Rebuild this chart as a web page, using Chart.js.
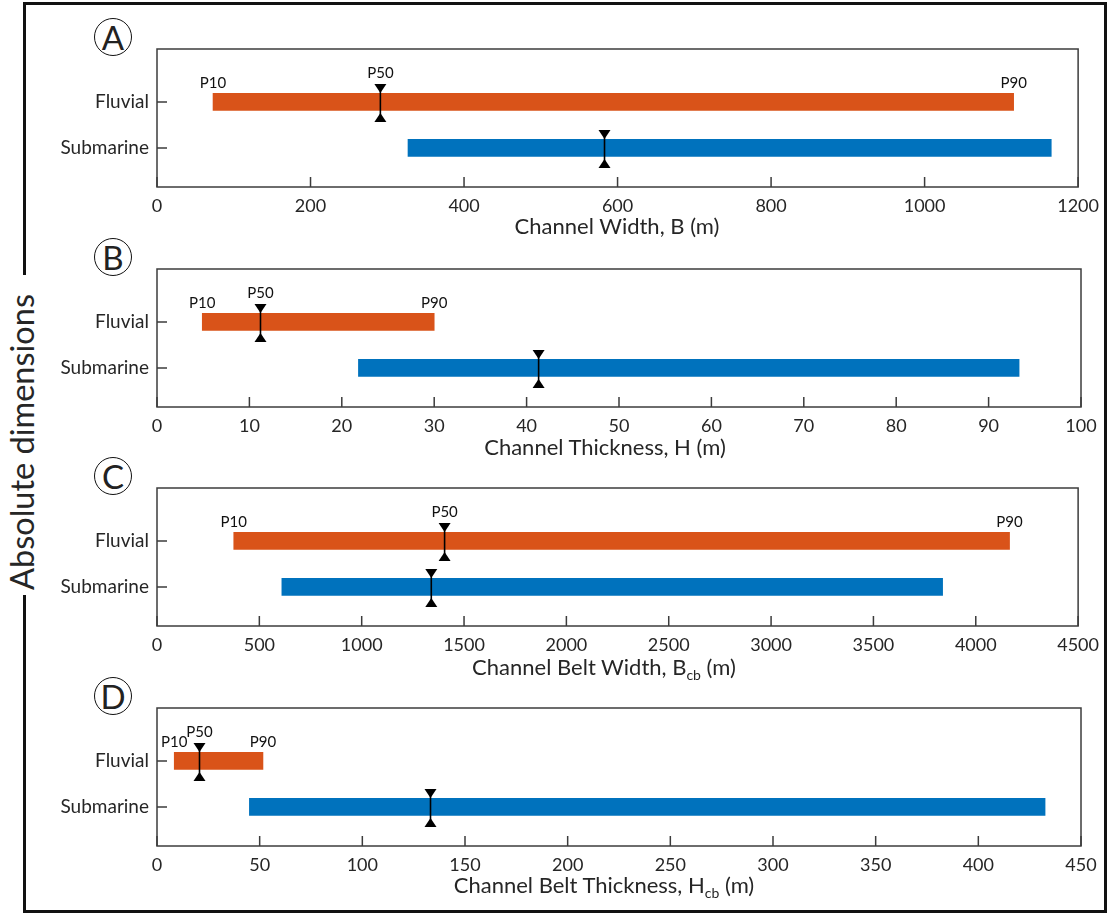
<!DOCTYPE html>
<html>
<head>
<meta charset="utf-8">
<script src="https://cdn.jsdelivr.net/npm/chart.js@4"></script>
<style>
  body { margin: 0; background: #fff; font-family: Lato, "Open Sans", sans-serif; color: #262626; }
  #wrap { position: relative; width: 1107px; height: 913px; overflow: hidden; }
  #frame { position: absolute; left: 23px; top: 2px; width: 1084px; height: 911px; border: 3px solid #111; box-sizing: border-box; }
  #vlab { position: absolute; left: 5px; top: 275px; width: 34px; height: 320px; background: #fff;
          writing-mode: vertical-rl; transform: rotate(180deg); font-size: 32.5px; line-height: 34px;
          padding-top: 5px; box-sizing: border-box; white-space: nowrap; color: #262626; }
  .letter { position: absolute; width: 38px; height: 38px; border: 1.6px solid #111; border-radius: 50%;
            box-sizing: border-box; display: flex; align-items: center; justify-content: center;
            font-size: 33px; font-weight: 400; line-height: 1; color: #222; background: #fff; padding-top: 1px; }
  .panel { position: absolute; left: 0; }
  .xt { position: absolute; transform: translateX(-50%); white-space: nowrap; font-size: 22px; line-height: 22px; color: #262626; }
  .xt sub { font-size: 14px; vertical-align: -5px; line-height: 0; }
</style>
</head>
<body>
<div id="wrap">
  <div id="frame"></div>
  <div id="vlab">Absolute dimensions</div>

  <div class="letter" style="left:94px;top:18px">A</div>
  <div class="letter" style="left:94px;top:238px">B</div>
  <div class="letter" style="left:94px;top:457px">C</div>
  <div class="letter" style="left:94px;top:677px">D</div>

  <canvas class="panel" id="chartA" width="1107" height="200" style="top:29px"></canvas>
  <canvas class="panel" id="chartB" width="1107" height="200" style="top:249px"></canvas>
  <canvas class="panel" id="chartC" width="1107" height="200" style="top:468px"></canvas>
  <canvas class="panel" id="chartD" width="1107" height="200" style="top:688px"></canvas>

  <div class="xt" style="left:617px;top:215px">Channel Width, B (m)</div>
  <div class="xt" style="left:605px;top:436px">Channel Thickness, H (m)</div>
  <div class="xt" style="left:604px;top:656px">Channel Belt Width, B<sub>cb</sub> (m)</div>
  <div class="xt" style="left:604px;top:874px">Channel Belt Thickness, H<sub>cb</sub> (m)</div>
</div>

<script>
const categories = ["Fluvial", "Submarine"];

// A: channel width (m)
const widthP10 = [73, 327];
const widthP50 = [291, 583];
const widthP90 = [1116, 1165];
const widthTicks = [0, 200, 400, 600, 800, 1000, 1200];

// B: channel thickness (m)
const thickP10 = [4.9, 21.8];
const thickP50 = [11.2, 41.3];
const thickP90 = [30, 93.3];
const thickTicks = [0, 10, 20, 30, 40, 50, 60, 70, 80, 90, 100];

// C: channel belt width (m)
const beltWidthP10 = [375, 610];
const beltWidthP50 = [1405, 1340];
const beltWidthP90 = [4165, 3838];
const beltWidthTicks = [0, 500, 1000, 1500, 2000, 2500, 3000, 3500, 4000, 4500];

// D: channel belt thickness (m)
const beltThickP10 = [8.4, 45];
const beltThickP50 = [20.7, 133.2];
const beltThickP90 = [51.6, 432.5];
const beltThickTicks = [0, 50, 100, 150, 200, 250, 300, 350, 400, 450];

const barColors = ["#D95319", "#0072BD"];
const axisColor = "#3c3c3c";
const fontFamily = "Lato, 'Open Sans', sans-serif";

// box, inward ticks, P50 markers and P10/P50/P90 labels
const panelDecor = {
  id: "panelDecor",
  afterDatasetsDraw(chart, args, opts) {
    const { ctx, chartArea: a, scales: { x, y } } = chart;
    ctx.save();
    ctx.strokeStyle = axisColor;
    ctx.lineWidth = 1.5;
    ctx.strokeRect(a.left, a.top, a.width, a.height);

    ctx.beginPath();
    x.ticks.forEach(t => {
      const px = x.getPixelForValue(t.value);
      ctx.moveTo(px, a.bottom);
      ctx.lineTo(px, a.bottom - 10);
    });
    y.ticks.forEach(t => {
      const py = y.getPixelForValue(t.value);
      ctx.moveTo(a.left, py);
      ctx.lineTo(a.left + 10, py);
    });
    ctx.stroke();

    // P50 marker: line with two triangles pointing at the bar
    ctx.fillStyle = "#000";
    ctx.strokeStyle = "#000";
    opts.p50.forEach((v, i) => {
      const px = x.getPixelForValue(v);
      const py = y.getPixelForValue(i + 1) + 1;
      ctx.lineWidth = 1.6;
      ctx.beginPath();
      ctx.moveTo(px, py - 18);
      ctx.lineTo(px, py + 18);
      ctx.stroke();
      ctx.beginPath();
      ctx.moveTo(px - 6, py - 19);
      ctx.lineTo(px + 6, py - 19);
      ctx.lineTo(px, py - 10);
      ctx.closePath();
      ctx.fill();
      ctx.beginPath();
      ctx.moveTo(px - 6, py + 19);
      ctx.lineTo(px + 6, py + 19);
      ctx.lineTo(px, py + 10);
      ctx.closePath();
      ctx.fill();
    });

    // percentile labels on the fluvial bar only
    ctx.fillStyle = "#111";
    ctx.font = "15px " + fontFamily;
    ctx.textAlign = "center";
    ctx.textBaseline = "alphabetic";
    const py = y.getPixelForValue(1);
    ctx.fillText("P10", x.getPixelForValue(opts.p10[0]), py - 13.5);
    ctx.fillText("P50", x.getPixelForValue(opts.p50[0]), py - 23.5);
    ctx.fillText("P90", x.getPixelForValue(opts.p90[0]), py - 13.5);
    ctx.restore();
  }
};

function makePanel(id, p10, p50, p90, xTicks) {
  const ctx = document.getElementById(id).getContext("2d");
  return new Chart(ctx, {
    type: "bar",
    data: {
      datasets: [{
        data: categories.map((c, i) => ({ x: [p10[i], p90[i]], y: i + 1 })),
        backgroundColor: barColors,
        borderWidth: 0,
        barThickness: 17
      }]
    },
    plugins: [panelDecor],
    options: {
      responsive: false,
      animation: false,
      indexAxis: "y",
      layout: { padding: { top: 20, right: 26, left: 0, bottom: 0 } },
      plugins: {
        legend: { display: false },
        tooltip: { enabled: false },
        panelDecor: { p10, p50, p90 }
      },
      scales: {
        x: {
          type: "linear",
          min: xTicks[0],
          max: xTicks[xTicks.length - 1],
          grid: { display: false, drawTicks: false },
          border: { display: false },
          afterBuildTicks: s => { s.ticks = xTicks.map(v => ({ value: v })); },
          afterFit: s => { s.height = 42; },
          ticks: {
            autoSkip: false,
            maxRotation: 0,
            padding: 8,
            color: "#262626",
            font: { family: fontFamily, size: 18 },
            callback: v => String(v)
          }
        },
        y: {
          type: "linear",
          reverse: true,
          min: -0.15,
          max: 2.85,
          offset: false,
          grid: { display: false, drawTicks: false, offset: false },
          border: { display: false },
          afterBuildTicks: s => { s.ticks = categories.map((c, i) => ({ value: i + 1 })); },
          afterFit: s => { s.width = 157; },
          ticks: {
            padding: 8,
            color: "#262626",
            font: { family: fontFamily, size: 19 },
            callback: v => categories[v - 1]
          }
        }
      }
    }
  });
}

makePanel("chartA", widthP10, widthP50, widthP90, widthTicks);
makePanel("chartB", thickP10, thickP50, thickP90, thickTicks);
makePanel("chartC", beltWidthP10, beltWidthP50, beltWidthP90, beltWidthTicks);
makePanel("chartD", beltThickP10, beltThickP50, beltThickP90, beltThickTicks);
</script>
</body>
</html>
